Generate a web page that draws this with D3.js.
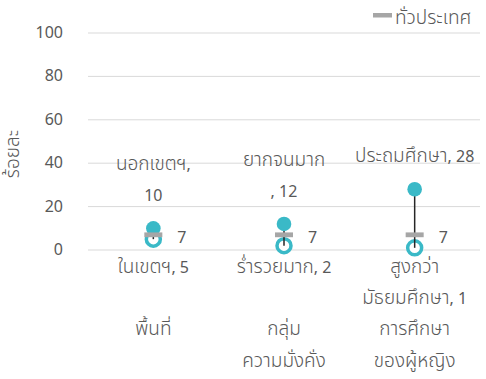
<!DOCTYPE html>
<html>
<head>
<meta charset="utf-8">
<script src="https://cdn.jsdelivr.net/npm/d3@7"></script>
<style>
  html, body { margin: 0; padding: 0; background: #fff; }
  svg text { font-family: "Noto Sans Thai", "Noto Sans", sans-serif; fill: #595959; }
  svg tspan.th { font-size: 19px; font-weight: 300; }
</style>
</head>
<body>
<svg id="chart" width="486" height="379"></svg>
<script>
// Inequality gaps: highest and lowest subgroup vs. national figure (percent)
const categories = ["พื้นที่", "กลุ่ม\nความมั่งคั่ง", "การศึกษา\nของผู้หญิง"];
const highNames = ["นอกเขตฯ,\n", "ยากจนมาก\n, ", "ประถมศึกษา, "];
const highValues = [10, 12, 28];
const lowNames = ["ในเขตฯ, ", "ร่ำรวยมาก, ", "สูงกว่า\nมัธยมศึกษา, "];
const lowValues = [5, 2, 1];
const nationalValues = [7, 7, 7];
const yTicks = [0, 20, 40, 60, 80, 100];
const legendLabel = "ทั่วประเทศ";
const yTitle = "ร้อยละ";

const teal = "#3AB9C7";
const gray = "#A6A6A6";

const svg = d3.select("#chart");
const x = d3.scaleBand().domain(categories).range([88, 480]);
const y = d3.scaleLinear().domain([0, 100]).range([250, 33]);

// writes a string as runs, giving Thai script its own size
function runs(parent, s) {
  s.split(/([\u0E00-\u0E7F]+)/).filter(p => p.length).forEach(p => {
    const t = parent.append("tspan").text(p);
    if (/[\u0E00-\u0E7F]/.test(p)) t.attr("class", "th");
  });
}

// multi-line text, one tspan per line
function lines(sel, getLines, lh) {
  sel.each(function(d) {
    const t = d3.select(this);
    getLines(d).forEach((s, k) => {
      const line = t.append("tspan").attr("x", t.attr("x")).attr("dy", k === 0 ? 0 : lh);
      runs(line, s);
    });
  });
}

// gridlines
svg.append("g").selectAll("line").data(yTicks).join("line")
  .attr("x1", 88).attr("x2", 480)
  .attr("y1", d => y(d)).attr("y2", d => y(d))
  .attr("stroke", "#D9D9D9").attr("stroke-width", 1);

// y tick labels
svg.append("g").selectAll("text").data(yTicks).join("text")
  .attr("x", 63).attr("y", d => y(d))
  .attr("text-anchor", "end").attr("dominant-baseline", "central")
  .style("font-size", "16px").text(d => d);

// y title
svg.append("text")
  .attr("transform", "translate(19,154) rotate(-90)")
  .attr("text-anchor", "middle")
  .style("font-size", "16px")
  .call(s => runs(s, yTitle));

const rows = categories.map((c, i) => ({
  c, hi: highValues[i], lo: lowValues[i], nat: nationalValues[i],
  hiLabel: highNames[i] + highValues[i], loLabel: lowNames[i] + lowValues[i]
}));
const cx = d => x(d.c) + x.bandwidth() / 2;

// hollow (lowest) markers
svg.append("g").selectAll("circle").data(rows).join("circle")
  .attr("cx", cx).attr("cy", d => y(d.lo)).attr("r", 7)
  .attr("fill", "#fff").attr("stroke", teal).attr("stroke-width", 3.5);

// range lines
svg.append("g").selectAll("line").data(rows).join("line")
  .attr("x1", cx).attr("x2", cx)
  .attr("y1", d => y(d.hi)).attr("y2", d => y(d.lo))
  .attr("stroke", "#262626").attr("stroke-width", 1.5);

// filled (highest) markers
svg.append("g").selectAll("circle").data(rows).join("circle")
  .attr("cx", cx).attr("cy", d => y(d.hi)).attr("r", 7.3)
  .attr("fill", teal);

// national dash
svg.append("g").selectAll("rect").data(rows).join("rect")
  .attr("x", d => cx(d) - 9).attr("y", d => y(d.nat) - 2.4)
  .attr("width", 18).attr("height", 4.8).attr("fill", gray);

// national value labels
svg.append("g").selectAll("text").data(rows).join("text")
  .attr("x", d => cx(d) + 24).attr("y", d => y(d.nat) + 8)
  .style("font-size", "16px").text(d => d.nat);

// high labels (above marker)
svg.append("g").selectAll("text").data(rows).join("text")
  .attr("x", cx).attr("text-anchor", "middle").style("font-size", "16px")
  .attr("y", d => y(d.hi) - 27 - (d.hiLabel.split("\n").length - 1) * 31)
  .call(lines, d => d.hiLabel.split("\n"), 31);

// low labels (below axis)
svg.append("g").selectAll("text").data(rows).join("text")
  .attr("x", cx).attr("text-anchor", "middle").style("font-size", "16px")
  .attr("y", y(0) + 23)
  .call(lines, d => d.loLabel.split("\n"), 31);

// category labels
svg.append("g").selectAll("text").data(rows).join("text")
  .attr("x", cx).attr("text-anchor", "middle").style("font-size", "16px")
  .attr("y", 335)
  .call(lines, d => d.c.split("\n"), 32);

// legend
svg.append("rect").attr("x", 373).attr("y", 13).attr("width", 19).attr("height", 4.5).attr("fill", gray);
svg.append("text").attr("x", 395).attr("y", 24).style("font-size", "16px")
  .call(s => runs(s, legendLabel));
</script>
</body>
</html>
